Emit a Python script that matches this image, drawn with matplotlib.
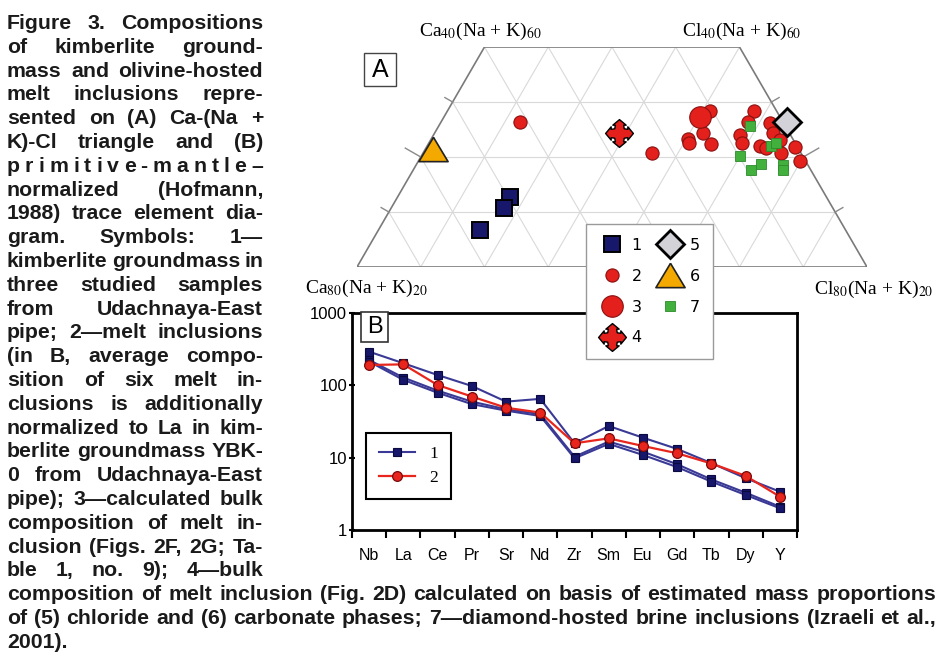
import numpy as np
import matplotlib
matplotlib.use("Agg")
import matplotlib.pyplot as plt
from matplotlib.path import Path
from matplotlib.patches import Rectangle
from matplotlib.ticker import FixedLocator, FixedFormatter, NullLocator, NullFormatter
from matplotlib import font_manager

plt.rcParams['font.family'] = ['Liberation Sans', 'DejaVu Sans']
plt.rcParams['mathtext.fontset'] = 'stix'

# ---------------- data: panel A (ternary, percent; Ca = 100 - Cl - (Na+K)) -------------
kimb_cl = [17.6, 17.7, 15.9]
kimb_nak = [32.8, 30.7, 26.7]
mi_cl = [12.4, 36.0, 41.1, 42.2, 40.3, 40.9, 44.4, 48.0, 48.1, 48.0, 49.2,
         51.7, 53.0, 52.2, 53.4, 56.2, 57.7, 59.9, 54.8]
mi_nak = [46.4, 40.7, 48.4, 44.3, 43.2, 42.5, 42.3, 48.4, 46.4, 44.0, 42.5,
          46.1, 44.4, 42.0, 41.6, 40.7, 41.9, 39.2, 43.1]
calc_cl = [40.2]
calc_nak = [47.3]
est_cl = [29.0]
est_nak = [44.3]
chloride_cl = [54.2]
chloride_nak = [46.4]
carbonate_cl = [1.1]
carbonate_nak = [41.5]
brine_cl = [48.8, 49.9, 53.0, 54.0, 54.0, 54.5, 57.5, 58.1]
brine_nak = [45.6, 40.2, 37.6, 38.7, 42.0, 42.5, 38.6, 37.6]
legend_labels_A = ['1', '2', '3', '4', '5', '6', '7']

# ---------------- data: panel B (primitive-mantle normalized) ----------------
elements = ['Nb', 'La', 'Ce', 'Pr', 'Sr', 'Nd', 'Zr', 'Sm', 'Eu', 'Gd', 'Tb', 'Dy', 'Y']
kimb_1 = [292, 202, 139, 98, 59.5, 65, 15.8, 27.4, 18.9, 13.2, 8.4, 5.2, 3.39]
kimb_2 = [224, 128, 84.5, 59.5, 46.7, 40, 10.3, 16.7, 12.1, 8.1, 5.0, 3.28, 2.1]
kimb_3 = [213, 119, 79, 55, 44.7, 37.7, 9.8, 15.5, 10.9, 7.4, 4.66, 3.05, 2.0]
melt_avg = [191, 195, 101, 70, 49, 42, 15.8, 18.5, 14.5, 11.5, 8.3, 5.6, 2.89]
y_ticks = [1, 10, 100, 1000]
y_tick_labels = ['1', '10', '100', '1000']

W, H = 938, 654
fig = plt.figure(figsize=(W / 100, H / 100), dpi=100)


def fx(px):
    return px / W


def fy(py):
    return 1 - py / H


S3 = np.sqrt(3) / 2


def tern(cl, nak):
    cl = np.asarray(cl, float)
    nak = np.asarray(nak, float)
    return cl + nak / 2, nak * S3


# ---------------- panel A ----------------
axA = fig.add_axes([fx(357), fy(267), 510 / W, 220 / H])
axA.set_xlim(10, 90)
axA.set_ylim(20 * S3, 60 * S3)
axA.axis('off')

grid_kw = dict(color='#d9d9d9', lw=0.8, zorder=1, solid_capstyle='butt')
for v in range(10, 80, 10):
    top = min(60, 100 - v)
    xs, ys = tern([v, v], [20, top])
    axA.plot(xs, ys, **grid_kw)
    xs, ys = tern([80 - v, 100 - v - top], [20, top])
    axA.plot(xs, ys, **grid_kw)
for n in (30, 40, 50):
    xs, ys = tern([0, 100 - n], [n, n])
    axA.plot(xs, ys, **grid_kw)
xs, ys = tern([0, 80, 40, 0, 0], [20, 20, 60, 60, 20])
axA.plot(xs, ys, color='#7a7a7a', lw=1.2, zorder=2)
for n in (30, 40, 50):
    L = 2.8 if n == 40 else 1.4
    x0, y0 = tern(0, n)
    axA.plot([x0, x0 - L * S3], [y0, y0 + L * 0.5], color='#8a8a8a', lw=1.0, clip_on=False)
    x1, y1 = tern(100 - n, n)
    axA.plot([x1, x1 + L * S3], [y1, y1 + L * 0.5], color='#8a8a8a', lw=1.0, clip_on=False)

cross_verts = [(-0.34, 0.34), (-0.3, 0.6), (-0.48, 0.6), (0, 1), (0.48, 0.6), (0.3, 0.6), (0.34, 0.34),
               (0.6, 0.3), (0.6, 0.48), (1, 0), (0.6, -0.48), (0.6, -0.3), (0.34, -0.34),
               (0.3, -0.6), (0.48, -0.6), (0, -1), (-0.48, -0.6), (-0.3, -0.6), (-0.34, -0.34),
               (-0.6, -0.3), (-0.6, -0.48), (-1, 0), (-0.6, 0.48), (-0.6, 0.3), (-0.34, 0.34)]
cross_marker = Path(cross_verts, closed=True)
tri_marker = [(0, 1), (-1.2, -1), (1.2, -1), (0, 1)]

red = '#e3201b'
x, y = tern(mi_cl, mi_nak)
h2, = axA.plot(x, y, 'o', ms=9.5, mfc=red, mec='#8a1010', mew=0.8, clip_on=False, zorder=4)
x, y = tern(brine_cl, brine_nak)
h7, = axA.plot(x, y, 's', ms=7, mfc='#41b03c', mec='#2e8a2a', mew=0.6, clip_on=False, zorder=5)
x, y = tern(kimb_cl, kimb_nak)
h1, = axA.plot(x, y, 's', ms=11.5, mfc='#17176b', mec='black', mew=1.4, clip_on=False, zorder=5)
x, y = tern(calc_cl, calc_nak)
h3, = axA.plot(x, y, 'o', ms=15.5, mfc=red, mec='#8a1010', mew=0.8, clip_on=False, zorder=4)
x, y = tern(est_cl, est_nak)
h4, = axA.plot(x, y, ls='none', marker=cross_marker, ms=20, mfc=red, mec='black', mew=1.0,
               clip_on=False, zorder=5)
x, y = tern(chloride_cl, chloride_nak)
h5, = axA.plot(x, y, 'D', ms=14.5, mfc='#d2d2d8', mec='black', mew=2.0, clip_on=False, zorder=6)
x, y = tern(carbonate_cl, carbonate_nak)
h6, = axA.plot(x, y, ls='none', marker=tri_marker, ms=21, mfc='#f4a900', mec='#222222', mew=1.2,
               clip_on=False, zorder=6)

# corner labels
lab_kw = dict(family='Liberation Serif', fontsize=14, ha='center', va='center')
fig.text(fx(480), fy(31), r'Ca$_{40}$(Na + K)$_{60}$', **lab_kw)
fig.text(fx(742), fy(31), r'Cl$_{40}$(Na + K)$_{60}$', **lab_kw)
fig.text(fx(366), fy(288), r'Ca$_{80}$(Na + K)$_{20}$', **lab_kw)
fig.text(fx(874), fy(289), r'Cl$_{80}$(Na + K)$_{20}$', **lab_kw)

# panel label A
fig.add_artist(Rectangle((fx(364), fy(86)), 32 / W, 33 / H, transform=fig.transFigure,
                         fc='white', ec='#444444', lw=1.0, zorder=5))
fig.text(fx(380), fy(70), 'A', fontsize=18, ha='center', va='center', zorder=6)

legA = fig.legend([h1, h2, h3, h4, h5, h6, h7], legend_labels_A, ncol=2, loc='upper left',
                  bbox_to_anchor=(fx(586), fy(224)), bbox_transform=fig.transFigure,
                  borderaxespad=0, frameon=True, fancybox=False, edgecolor='#9a9a9a',
                  framealpha=1, prop=dict(family='DejaVu Sans', size=11.5), numpoints=1,
                  handlelength=1.5, handletextpad=0.5, columnspacing=1.0,
                  labelspacing=1.0, borderpad=0.85)
legA.get_frame().set_linewidth(1.0)
legA.set_zorder(10)

# ---------------- panel B ----------------
names = {f.name for f in font_manager.fontManager.ttflist}
if 'Liberation Sans Narrow' in names:
    xtick_font = dict(family='Liberation Sans Narrow', size=13)
    ytick_font = dict(family='Liberation Sans Narrow', size=13)
else:
    xtick_font = dict(family='Liberation Sans', size=11.5)
    ytick_font = dict(family='Liberation Sans', size=12)

axB = fig.add_axes([fx(352), fy(530), 445 / W, 217 / H])
xpos = np.arange(len(elements))
blue_line = '#3a3a96'
for i, series in enumerate((kimb_1, kimb_2, kimb_3)):
    hb, = axB.plot(xpos, series, '-s', color=blue_line, lw=1.5, ms=5.5, mfc='#16166a',
                   mec='#0a0a40', mew=0.8, zorder=3)
    if i == 0:
        hB1 = hb
hB2, = axB.plot(xpos, melt_avg, '-o', color='#e8261e', lw=1.6, ms=7, mfc='#e8261e',
                mec='#7a0a0a', mew=0.9, zorder=4)
axB.set_yscale('log')
axB.set_ylim(1, 1000)
axB.set_xlim(-0.5, len(elements) - 0.5)
axB.xaxis.set_major_locator(FixedLocator(xpos))
axB.xaxis.set_major_formatter(FixedFormatter(elements))
axB.xaxis.set_minor_locator(FixedLocator(np.arange(len(elements) + 1) - 0.5))
axB.xaxis.set_minor_formatter(NullFormatter())
axB.tick_params(axis='x', which='major', length=0, pad=13)
axB.tick_params(axis='x', which='minor', length=6, width=1.5, direction='out')
axB.yaxis.set_major_locator(FixedLocator(y_ticks))
axB.yaxis.set_major_formatter(FixedFormatter(y_tick_labels))
axB.yaxis.set_minor_locator(NullLocator())
axB.tick_params(axis='y', which='major', length=5, width=1.5, direction='inout', pad=1)
for lab in axB.get_xticklabels():
    lab.set_fontfamily(xtick_font['family'])
    lab.set_fontsize(xtick_font['size'])
for lab in axB.get_yticklabels():
    lab.set_fontfamily(ytick_font['family'])
    lab.set_fontsize(ytick_font['size'])
for sp in axB.spines.values():
    sp.set_linewidth(2.0)

legB = axB.legend([hB1, hB2], ['1', '2'], loc='upper left', bbox_to_anchor=(0.031, 0.447),
                  borderaxespad=0, frameon=True, fancybox=False, edgecolor='black', framealpha=1,
                  prop=dict(family='Liberation Serif', size=12.5), numpoints=1,
                  handlelength=2.1, handletextpad=0.8, labelspacing=0.45, borderpad=0.75)
legB.get_frame().set_linewidth(1.5)

fig.add_artist(Rectangle((fx(361), fy(342)), 27 / W, 30 / H, transform=fig.transFigure,
                         fc='white', ec='#333333', lw=1.2, zorder=5))
fig.text(fx(374.5), fy(327), 'B', fontsize=17, ha='center', va='center', zorder=6)

# ---------------- caption ----------------
cap_font = dict(family='Liberation Sans', weight='bold', size=15.3, color='#1a1a1a')
cap_lines = [
    ("Figure 3. Compositions", 'c'),
    ("of kimberlite ground-", 'c'),
    ("mass and olivine-hosted", 'c'),
    ("melt inclusions repre-", 'c'),
    ("sented on (A) Ca-(Na +", 'c'),
    ("K)-Cl triangle and (B)", 'c'),
    ("primitive-mantle–", 's'),
    ("normalized (Hofmann,", 'c'),
    ("1988) trace element dia-", 'c'),
    ("gram. Symbols: 1—", 'c'),
    ("kimberlite groundmass in", 'c'),
    ("three studied samples", 'c'),
    ("from Udachnaya-East", 'c'),
    ("pipe; 2—melt inclusions", 'c'),
    ("(in B, average compo-", 'c'),
    ("sition of six melt in-", 'c'),
    ("clusions is additionally", 'c'),
    ("normalized to La in kim-", 'c'),
    ("berlite groundmass YBK-", 'c'),
    ("0 from Udachnaya-East", 'c'),
    ("pipe); 3—calculated bulk", 'c'),
    ("composition of melt in-", 'c'),
    ("clusion (Figs. 2F, 2G; Ta-", 'c'),
    ("ble 1, no. 9); 4—bulk", 'c'),
    ("composition of melt inclusion (Fig. 2D) calculated on basis of estimated mass proportions", 'f'),
    ("of (5) chloride and (6) carbonate phases; 7—diamond-hosted brine inclusions (Izraeli et al.,", 'f'),
    ("2001).", 'l'),
]

renderer = fig.canvas.get_renderer()


def text_width(s, size):
    t = fig.text(0, 0, s, **{**cap_font, 'size': size})
    w = t.get_window_extent(renderer=renderer).width
    t.remove()
    return w


LEFT, COL_RIGHT, FULL_RIGHT = 7, 263, 936
for i, (line, mode) in enumerate(cap_lines):
    base = 29 + 23.8 * i
    tokens = list(line) if mode == 's' else line.split(' ')
    right = COL_RIGHT if mode in ('c', 's') else FULL_RIGHT
    size = cap_font['size']
    widths = [text_width(t, size) for t in tokens]
    space = 0.278 * size * 100 / 72
    if mode != 'l' and sum(widths) + space * 0.6 * (len(tokens) - 1) > right - LEFT:
        size = size * (right - LEFT) / (sum(widths) + space * 0.6 * (len(tokens) - 1))
        widths = [text_width(t, size) for t in tokens]
    if mode == 'l' or len(tokens) == 1:
        gap = space
    else:
        gap = (right - LEFT - sum(widths)) / (len(tokens) - 1)
    xcur = LEFT
    for t, w in zip(tokens, widths):
        fig.text(fx(xcur), fy(base), t, ha='left', va='baseline', **{**cap_font, 'size': size})
        xcur += w + gap

fig.savefig('out.png', dpi=100)
